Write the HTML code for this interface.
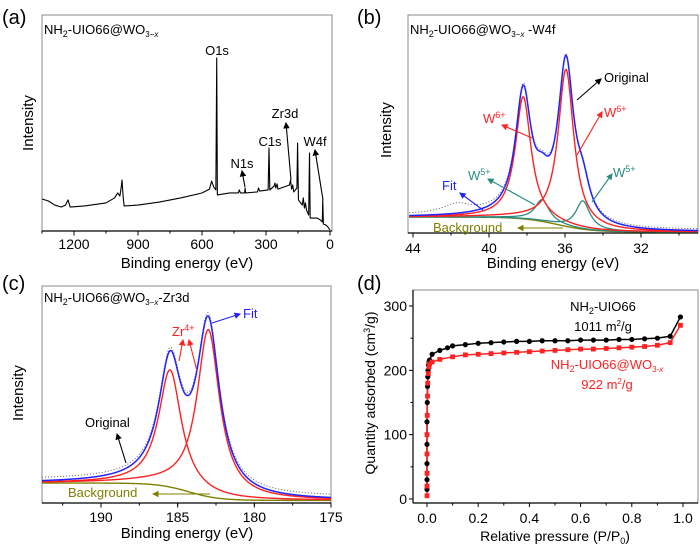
<!DOCTYPE html>
<html><head><meta charset="utf-8"><style>
html,body{margin:0;padding:0;background:#fff}
svg{display:block;font-family:"Liberation Sans",Arial,sans-serif}
</style></head><body>
<svg id="fig" width="700" height="546" viewBox="0 0 700 546" xmlns="http://www.w3.org/2000/svg">
<defs>
<marker id="ahk" markerWidth="6" markerHeight="6" refX="5" refY="3" orient="auto"><path d="M0,0 L6,3 L0,6 z" fill="#000"/></marker>
<marker id="ahr" markerWidth="6" markerHeight="6" refX="5" refY="3" orient="auto"><path d="M0,0 L6,3 L0,6 z" fill="#f22"/></marker>
<marker id="ahb" markerWidth="6" markerHeight="6" refX="5" refY="3" orient="auto"><path d="M0,0 L6,3 L0,6 z" fill="#22f"/></marker>
<marker id="aht" markerWidth="6" markerHeight="6" refX="5" refY="3" orient="auto"><path d="M0,0 L6,3 L0,6 z" fill="#2a8c80"/></marker>
<marker id="aho" markerWidth="6" markerHeight="6" refX="5" refY="3" orient="auto"><path d="M0,0 L6,3 L0,6 z" fill="#808000"/></marker>
</defs>
<g id="layer"></g>
</svg>
<script>
// ---- Panel (a) survey data ----
const surveyEV=[1350,1320,1290,1260,1240,1228,1218,1150,1050,1010,995,985,978,975,970,965,900,800,700,600,565,555,545,535,531,528,470,430,425,420,400,398,395,340,335,330,290,286,282,262,258,254,248,244,190,185,180,175,170,155,152,148,130,125,120,115,110,100,96,93,60,45,36,34,31,20,10,0];
const surveyI=[14.8,13.9,12.0,11.1,12.0,14.4,11.1,11.6,13.0,15.3,17.6,16.2,20.8,23.6,16.2,11.6,12.0,13.4,15.3,17.6,19.4,23.1,20.4,19.0,80.1,16.7,17.6,17.6,19.0,17.6,17.6,19.9,17.6,18.1,19.9,18.5,19.0,38.4,19.0,20.8,22.2,19.9,21.8,19.4,21.3,23.6,19.4,21.3,18.1,19.9,40.7,14.4,12.0,15.3,10.6,13.0,9.7,7.4,36.1,6.0,6.0,5.1,4.2,14.4,3.2,2.8,1.9,0.5];
const ticksA=[1200,900,600,300,0];
// ---- Panel (b) W4f components ----
const w6Centers=[38.2,35.95];
const w6Amps=[56,72];
const w6Widths=[0.5,0.5];
const w5Centers=[37.2,35.06];
const w5Amps=[10,13];
const w5Widths=[0.45,0.45];
const bgB=[7.3,0.5,36.4,0.9]; // high, low, center, width
const origBumpB=[41.7,4,0.9];
const ticksB=[44,40,36,32];
// ---- Panel (c) Zr3d components ----
const zrCenters=[185.5,183.0];
const zrAmps=[54,77];
const zrWidths=[0.9,0.9];
const bgC=[9.2,1.2,184.3,1.0];
const ticksC=[190,185,180,175];
// ---- Panel (d) isotherms ----
const pBlack=[0,0,0,0,0,0.001,0.002,0.003,0.004,0.006,0.008,0.01,0.02,0.05,0.08,0.1,0.15,0.2,0.25,0.3,0.35,0.4,0.45,0.5,0.55,0.6,0.65,0.7,0.75,0.8,0.85,0.9,0.95,0.99];
const qBlack=[15,30,55,85,120,150,175,190,200,208,213,216,225,231,235,238,240,242,243,244,245,245,246,246,246,247,247,247,248,248,249,250,253,283];
const pRed=[0,0,0,0,0,0.001,0.002,0.003,0.005,0.008,0.01,0.02,0.05,0.1,0.15,0.2,0.25,0.3,0.35,0.4,0.45,0.5,0.55,0.6,0.65,0.7,0.75,0.8,0.85,0.9,0.95,0.99];
const qRed=[5,20,40,70,100,130,160,180,195,205,210,213,217,221,224,225,226,227,228,229,230,231,232,233,233,234,235,236,237,239,243,270];
const ticksDx=[0,0.2,0.4,0.6,0.8,1.0];
const ticksDy=[0,100,200,300];

const NS="http://www.w3.org/2000/svg";
const L=document.getElementById('layer');
function mk(tag,attrs,parent){const e=document.createElementNS(NS,tag);for(const k in attrs)e.setAttribute(k,attrs[k]);(parent||L).appendChild(e);return e;}
function lin(d0,d1,r0,r1){return v=>r0+(v-d0)*(r1-r0)/(d1-d0);}
function lor(x,c,a,g){return a*g*g/((x-c)*(x-c)+g*g);}
function sig(x,p){return p[1]+(p[0]-p[1])/(1+Math.exp(-(x-p[2])/p[3]));}
function pathFrom(xs,ys,sx,sy){let d='';for(let i=0;i<xs.length;i++)d+=(i?'L':'M')+sx(xs[i]).toFixed(2)+','+sy(ys[i]).toFixed(2);return d;}
function txt(x,y,s,size,fill,anchor,name){const t=mk('text',{x:x,y:y,'font-size':size,fill:fill||'#000','text-anchor':anchor||'start'});t.innerHTML=s;return t;}
function arrow(x1,y1,x2,y2,col,mid,name){const a=mk('line',{x1:x1,y1:y1,x2:x2,y2:y2,stroke:col,'stroke-width':1.1,'marker-end':'url(#'+mid+')'});}
function frame(x0,y0,x1,y1,name){const r=mk('rect',{x:x0,y:y0,width:x1-x0,height:y1-y0,fill:'none',stroke:'#888','stroke-width':1});mk('line',{x1:x0,y1:y1,x2:x1,y2:y1,stroke:'#000','stroke-width':1.2});}
function xticks(ticks,sx,yb,minorStep,d0,d1,labY,name,fmt){
  const g=mk('g',{});
  if(minorStep){const lo=Math.min(d0,d1),hi=Math.max(d0,d1);for(let v=Math.ceil(lo/minorStep)*minorStep;v<=hi+1e-9;v+=minorStep){mk('line',{x1:sx(v),y1:yb,x2:sx(v),y2:yb+2.5,stroke:'#000'},g);}}
  ticks.forEach(t=>{mk('line',{x1:sx(t),y1:yb,x2:sx(t),y2:yb+4.5,stroke:'#000'},g);const e=mk('text',{x:sx(t),y:labY,'font-size':14,'text-anchor':'middle'},g);e.textContent=fmt?fmt(t):t;});
}
function curve(xs,ys,sx,sy,col,w,name,dash){const p=mk('path',{d:pathFrom(xs,ys,sx,sy),fill:'none',stroke:col,'stroke-width':w,'stroke-linejoin':'round'});if(dash)p.setAttribute('stroke-dasharray',dash);return p;}
function grid(a,b,n){const r=[];for(let i=0;i<=n;i++)r.push(a+(b-a)*i/n);return r;}

// ===== Panel (a) =====
{const sx=lin(0,300,330,266),sy=lin(0,100,231,15);
frame(42,15,332,231,'panel-a-frame');
curve(surveyEV,surveyI,sx,sy,'#000',1.1,'survey-spectrum');
xticks(ticksA,sx,231,150,0,1350,249,'x-axis-ticks-a');
txt(2,24,'(a)',20,'#000','start','panel-a-label');
txt(44,34,'NH<tspan font-size="9" dy="3">2</tspan><tspan dy="-3">-UIO66@WO</tspan><tspan font-size="8" dy="3">3−<tspan font-style="italic">x</tspan></tspan>',13,'#000','start','panel-a-title');
txt(187,268,'Binding energy (eV)',15,'#000','middle','x-axis-title-a');
const yt=txt(0,0,'Intensity',15,'#000','middle','y-axis-title-a');yt.setAttribute('transform','translate(33,123) rotate(-90)');
txt(217,55,'O1s',13,'#000','middle','o1s-label');
txt(242,168,'N1s',13,'#000','middle','n1s-label');
txt(270,146,'C1s',13,'#000','middle','c1s-label');
txt(285,118,'Zr3d',13,'#000','middle','zr3d-label');
txt(315,146,'W4f',13,'#000','middle','w4f-label');
arrow(245,187,242,171,'#000','ahk','n1s-arrow');
arrow(291,180,286,123,'#000','ahk','zr3d-arrow');
arrow(323,200,315,150,'#000','ahk','w4f-arrow');}

// ===== Panel (b) =====
{const sx=lin(36,32,565,641),sy=lin(0,100,233,15);
frame(408,15,698,233,'panel-b-frame');
const xs=grid(44.2,29.0,600);
const bg=xs.map(x=>sig(x,bgB));
curve(xs,bg,sx,sy,'#808000',1.4,'background-curve-b');
for(let k=0;k<w5Centers.length;k++){curve(xs,xs.map((x,i)=>bg[i]+lor(x,w5Centers[k],w5Amps[k],w5Widths[k])),sx,sy,'#2a8c80',1.3,'w5-component-'+(k+1));}
for(let k=0;k<w6Centers.length;k++){curve(xs,xs.map((x,i)=>bg[i]+lor(x,w6Centers[k],w6Amps[k],w6Widths[k])),sx,sy,'#f22',1.4,'w6-component-'+(k+1));}
const fit=xs.map((x,i)=>{let s=bg[i];for(let k=0;k<2;k++){s+=lor(x,w6Centers[k],w6Amps[k],w6Widths[k])+lor(x,w5Centers[k],w5Amps[k],w5Widths[k]);}return s;});
curve(xs,fit.map((v,i)=>v+lor(xs[i],origBumpB[0],origBumpB[1],origBumpB[2])+0.8),sx,sy,'#777',1,'original-data-b','1.2,1.8');
curve(xs,fit,sx,sy,'#22f',1.5,'fit-curve-b');
xticks(ticksB,sx,233,2,44.2,29.0,253,'x-axis-ticks-b');
txt(357,24,'(b)',20,'#000','start','panel-b-label');
txt(410,34,'NH<tspan font-size="9" dy="3">2</tspan><tspan dy="-3">-UIO66@WO</tspan><tspan font-size="8" dy="3">3−<tspan font-style="italic">x</tspan></tspan><tspan dy="-3"> -W4f</tspan>',13,'#000','start','panel-b-title');
txt(553,268,'Binding energy (eV)',15,'#000','middle','x-axis-title-b');
const yt=txt(0,0,'Intensity',15,'#000','middle','y-axis-title-b');yt.setAttribute('transform','translate(391,130) rotate(-90)');
txt(604,82,'Original',13,'#000','start','original-label-b');arrow(577,100,601,79,'#000','ahk','original-arrow-b');
txt(483,123,'W<tspan font-size="9" dy="-5">6+</tspan>',13,'#f22','start','w6-label-left');arrow(532,138,502,125,'#f22','ahr','w6-arrow-left');
txt(604,117,'W<tspan font-size="9" dy="-5">6+</tspan>',13,'#f22','start','w6-label-right');arrow(577,155,602,112,'#f22','ahr','w6-arrow-right');
txt(468,180,'W<tspan font-size="9" dy="-5">5+</tspan>',13,'#2a8c80','start','w5-label-left');arrow(535,205,488,179,'#2a8c80','aht','w5-arrow-left');
txt(613,177,'W<tspan font-size="9" dy="-5">5+</tspan>',13,'#2a8c80','start','w5-label-right');arrow(592,202,612,174,'#2a8c80','aht','w5-arrow-right');
txt(442,190,'Fit',13,'#22f','start','fit-label-b');arrow(483,210,460,193,'#22f','ahb','fit-arrow-b');
txt(433,232,'Background',13,'#808000','start','background-label-b');arrow(563,228,518,228,'#808000','aho','background-arrow-b');}

// ===== Panel (c) =====
{const sx=lin(190,175,101,331),sy=lin(0,100,503,286);
frame(42,286,331,503,'panel-c-frame');
const xs=grid(193.85,175,600);
const bg=xs.map(x=>sig(x,bgC));
curve(xs,bg,sx,sy,'#808000',1.4,'background-curve-c');
for(let k=0;k<zrCenters.length;k++){curve(xs,xs.map((x,i)=>bg[i]+lor(x,zrCenters[k],zrAmps[k],zrWidths[k])),sx,sy,'#f22',1.4,'zr4-component-'+(k+1));}
const fit=xs.map((x,i)=>{let s=bg[i];for(let k=0;k<2;k++)s+=lor(x,zrCenters[k],zrAmps[k],zrWidths[k]);return s;});
curve(xs,fit.map(v=>v+1.5),sx,sy,'#777',1,'original-data-c','1.2,1.8');
curve(xs,fit,sx,sy,'#22f',1.5,'fit-curve-c');
xticks(ticksC,sx,503,2.5,193.85,175,522,'x-axis-ticks-c');
txt(2,290,'(c)',20,'#000','start','panel-c-label');
txt(44,302,'NH<tspan font-size="9" dy="3">2</tspan><tspan dy="-3">-UIO66@WO</tspan><tspan font-size="8" dy="3">3−<tspan font-style="italic">x</tspan></tspan><tspan dy="-3">-Zr3d</tspan>',13,'#000','start','panel-c-title');
txt(187,538,'Binding energy (eV)',15,'#000','middle','x-axis-title-c');
const yt=txt(0,0,'Intensity',15,'#000','middle','y-axis-title-c');yt.setAttribute('transform','translate(23,393) rotate(-90)');
txt(243,318,'Fit',13,'#22f','start','fit-label-c');arrow(212,323,240,314,'#22f','ahb','fit-arrow-c');
txt(172,336,'Zr<tspan font-size="9" dy="-5">4+</tspan>',13,'#f22','start','zr4-label');arrow(179,361,183,340,'#f22','ahr','zr4-arrow-1');arrow(197,371,189,340,'#f22','ahr','zr4-arrow-2');
txt(85,427,'Original',13,'#000','start','original-label-c');arrow(126,463,117,434,'#000','ahk','original-arrow-c');
txt(68,497,'Background',13,'#808000','start','background-label-c');arrow(210,494,153,494,'#808000','aho','background-arrow-c');}

// ===== Panel (d) =====
{const sx=lin(0,1,427,683),sy=lin(0,300,499,306);
const r=mk('rect',{x:413,y:290,width:285,height:213,fill:'none',stroke:'#888'});
mk('line',{x1:413,y1:503,x2:698,y2:503,stroke:'#000','stroke-width':1.2});mk('line',{x1:413,y1:290,x2:413,y2:503,stroke:'#000','stroke-width':1.2});
const gx=mk('g',{});
ticksDx.forEach(t=>{mk('line',{x1:sx(t),y1:503,x2:sx(t),y2:507,stroke:'#000'},gx);if(t<1)mk('line',{x1:sx(t+0.1),y1:503,x2:sx(t+0.1),y2:505.5,stroke:'#000'},gx);const e=mk('text',{x:sx(t),y:523,'font-size':14,'text-anchor':'middle'},gx);e.textContent=t.toFixed(1);});
const gy=mk('g',{});
ticksDy.forEach(t=>{mk('line',{x1:409,y1:sy(t),x2:413,y2:sy(t),stroke:'#000'},gy);if(t<300)mk('line',{x1:410.5,y1:sy(t+50),x2:413,y2:sy(t+50),stroke:'#000'},gy);const e=mk('text',{x:407,y:sy(t)+5,'font-size':14,'text-anchor':'end'},gy);e.textContent=t;});
curve(pBlack,qBlack,sx,sy,'#000',1.5,'isotherm-nh2-uio66');
curve(pRed,qRed,sx,sy,'#f22',1.5,'isotherm-composite');
pBlack.forEach((p,i)=>{const c=mk('circle',{cx:sx(p),cy:sy(qBlack[i]),r:2.6,fill:'#000'});});
pRed.forEach((p,i)=>{const c=mk('rect',{x:sx(p)-2.4,y:sy(qRed[i])-2.4,width:4.8,height:4.8,fill:'#f22'});});
txt(357,290,'(d)',20,'#000','start','panel-d-label');
txt(555,541,'Relative pressure (P/P<tspan font-size="9" dy="3">0</tspan><tspan dy="-3">)</tspan>',14,'#000','middle','x-axis-title-d');
const yt=txt(0,0,'Quantity adsorbed (cm<tspan font-size="9" dy="-5">3</tspan><tspan dy="5">/g)</tspan>',14,'#000','middle','y-axis-title-d');yt.setAttribute('transform','translate(375,393) rotate(-90)');
txt(603,311,'NH<tspan font-size="9" dy="3">2</tspan><tspan dy="-3">-UIO66</tspan>',13,'#000','middle','label-nh2-uio66');
txt(603,331,'1011 m<tspan font-size="8" dy="-5">2</tspan><tspan dy="5">/g</tspan>',13,'#000','middle','area-nh2-uio66');
txt(607,369,'NH<tspan font-size="9" dy="3">2</tspan><tspan dy="-3">-UIO66@WO</tspan><tspan font-size="8" dy="3">3-<tspan font-style="italic">x</tspan></tspan>',13,'#f22','middle','label-composite');
txt(607,389,'922 m<tspan font-size="8" dy="-5">2</tspan><tspan dy="5">/g</tspan>',13,'#f22','middle','area-composite');}
</script>
</body></html>
